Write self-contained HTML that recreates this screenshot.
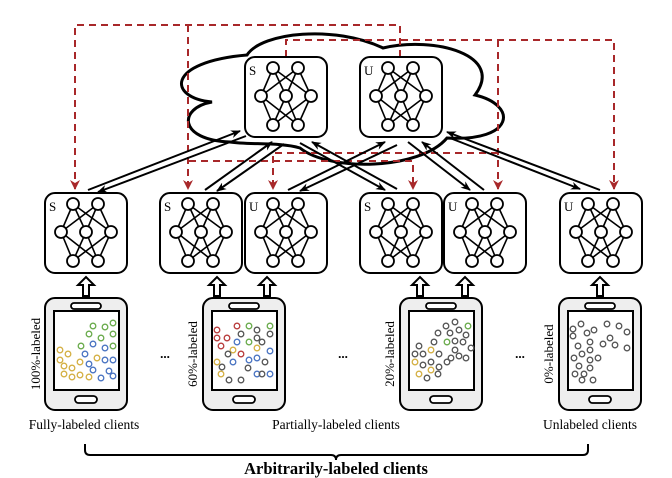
<!DOCTYPE html>
<html><head><meta charset="utf-8"><style>
html,body{margin:0;padding:0;background:#fff;}
svg{display:block;}
text{font-family:"Liberation Serif",serif;}
</style></head><body>
<svg width="672" height="478" viewBox="0 0 672 478" xmlns="http://www.w3.org/2000/svg">
<defs>
<marker id="ab" markerWidth="10" markerHeight="8" refX="9" refY="4" orient="auto" markerUnits="userSpaceOnUse"><path d="M0,0 L10,4 L0,8 L3,4 Z" fill="#000"/></marker>
<marker id="ar" markerWidth="10" markerHeight="10" refX="9" refY="5" orient="auto" markerUnits="userSpaceOnUse"><path d="M0,0 L10,5 L0,10 L3,5 Z" fill="#a8282a"/></marker>
<g id="net">
<rect x="0" y="0" width="82" height="80" rx="10" fill="#fff" stroke="#000" stroke-width="2"/>
<g stroke="#000" stroke-width="1.6">
<line x1="28" y1="11" x2="16" y2="39"/><line x1="28" y1="11" x2="41" y2="39"/><line x1="28" y1="11" x2="66" y2="39"/>
<line x1="53" y1="11" x2="16" y2="39"/><line x1="53" y1="11" x2="41" y2="39"/><line x1="53" y1="11" x2="66" y2="39"/>
<line x1="28" y1="68" x2="16" y2="39"/><line x1="28" y1="68" x2="41" y2="39"/><line x1="28" y1="68" x2="66" y2="39"/>
<line x1="53" y1="68" x2="16" y2="39"/><line x1="53" y1="68" x2="41" y2="39"/><line x1="53" y1="68" x2="66" y2="39"/>
</g>
<g fill="#fff" stroke="#000" stroke-width="1.8">
<circle cx="28" cy="11" r="6"/><circle cx="53" cy="11" r="6"/>
<circle cx="16" cy="39" r="6"/><circle cx="41" cy="39" r="6"/><circle cx="66" cy="39" r="6"/>
<circle cx="28" cy="68" r="6"/><circle cx="53" cy="68" r="6"/>
</g>
</g>
<g id="phone">
<rect x="0" y="0" width="82" height="112" rx="10" fill="#eeeeee" stroke="#000" stroke-width="2"/>
<rect x="9" y="13" width="65" height="79" fill="#fff" stroke="#000" stroke-width="2"/>
<rect x="26" y="5" width="30" height="6" rx="3" fill="#fff" stroke="#000" stroke-width="1.8"/>
<rect x="30" y="98" width="22" height="7" rx="3.5" fill="#fff" stroke="#000" stroke-width="1.8"/>
</g>
<path id="hup" d="M-3,19 L-3,8 L-8,8 L0,0 L8,8 L3,8 L3,19 Z" fill="#fff" stroke="#000" stroke-width="2"/>
</defs>

<!-- cloud -->
<path d="M247,55 C262,32 335,25 383,48 C435,36 505,55 475,95 C518,105 515,142 447,138 C420,170 330,172 300,148 C280,142 250,145 230,142 C178,140 178,108 212,102 C168,98 165,62 247,55 Z" fill="#fff" stroke="#000" stroke-width="3"/>

<!-- red dashed -->
<g fill="none" stroke="#a8282a" stroke-width="2" stroke-dasharray="7,5">
<path d="M400,57 L400,25 L75,25 L75,189" marker-end="url(#ar)"/>
<path d="M188,25 L188,189" marker-end="url(#ar)"/>
<path d="M286,57 L286,40 L614,40 L614,189" marker-end="url(#ar)"/>
<path d="M498,40 L498,189" marker-end="url(#ar)"/>
<path d="M189,161 L413,161 L413,189" marker-end="url(#ar)"/>
<path d="M498,153 L273,153 L273,189" marker-end="url(#ar)"/>
</g>

<!-- server boxes -->
<use href="#net" x="245" y="57"/>
<use href="#net" x="360" y="57"/>
<text x="249" y="75" font-size="13">S</text>
<text x="364" y="75" font-size="13">U</text>

<!-- black arrows -->
<g stroke="#000" stroke-width="2" fill="none">
<line x1="88" y1="190" x2="240" y2="131" marker-end="url(#ab)"/>
<line x1="246" y1="136" x2="98" y2="192" marker-end="url(#ab)"/>
<line x1="205" y1="190" x2="272" y2="142" marker-end="url(#ab)"/>
<line x1="284" y1="144" x2="217" y2="191" marker-end="url(#ab)"/>
<line x1="288" y1="190" x2="385" y2="142" marker-end="url(#ab)"/>
<line x1="397" y1="145" x2="300" y2="191" marker-end="url(#ab)"/>
<line x1="300" y1="143" x2="385" y2="190" marker-end="url(#ab)"/>
<line x1="397" y1="189" x2="312" y2="142" marker-end="url(#ab)"/>
<line x1="408" y1="142" x2="470" y2="190" marker-end="url(#ab)"/>
<line x1="484" y1="190" x2="422" y2="142" marker-end="url(#ab)"/>
<line x1="600" y1="190" x2="447" y2="132" marker-end="url(#ab)"/>
<line x1="450" y1="138" x2="580" y2="189" marker-end="url(#ab)"/>
</g>

<!-- client boxes -->
<use href="#net" x="45" y="193"/>
<use href="#net" x="160" y="193"/>
<use href="#net" x="245" y="193"/>
<use href="#net" x="360" y="193"/>
<use href="#net" x="444" y="193"/>
<use href="#net" x="560" y="193"/>
<g font-size="13">
<text x="49" y="211">S</text><text x="164" y="211">S</text><text x="249" y="211">U</text>
<text x="364" y="211">S</text><text x="448" y="211">U</text><text x="564" y="211">U</text>
</g>

<!-- hollow arrows -->
<use href="#hup" x="86" y="277"/>
<use href="#hup" x="217" y="277"/>
<use href="#hup" x="267" y="277"/>
<use href="#hup" x="420" y="277"/>
<use href="#hup" x="465" y="277"/>
<use href="#hup" x="600" y="277"/>

<!-- phones -->
<use href="#phone" x="45" y="298"/>
<use href="#phone" x="203" y="298"/>
<use href="#phone" x="400" y="298"/>
<use href="#phone" x="559" y="298"/>

<g fill="none" stroke-width="1.3">
<g stroke="#d4b044"><circle cx="60" cy="350" r="2.8"/><circle cx="68" cy="354" r="2.8"/><circle cx="60" cy="360" r="2.8"/><circle cx="64" cy="366" r="2.8"/><circle cx="72" cy="368" r="2.8"/><circle cx="64" cy="374" r="2.8"/><circle cx="72" cy="377" r="2.8"/><circle cx="80" cy="375" r="2.8"/><circle cx="89" cy="377" r="2.8"/><circle cx="80" cy="362" r="2.8"/><circle cx="97" cy="358" r="2.8"/></g>
<g stroke="#6aab4c"><circle cx="93" cy="326" r="2.8"/><circle cx="105" cy="327" r="2.8"/><circle cx="113" cy="323" r="2.8"/><circle cx="89" cy="334" r="2.8"/><circle cx="101" cy="338" r="2.8"/><circle cx="113" cy="334" r="2.8"/><circle cx="81" cy="346" r="2.8"/><circle cx="113" cy="346" r="2.8"/></g>
<g stroke="#4a74c2"><circle cx="93" cy="344" r="2.8"/><circle cx="85" cy="354" r="2.8"/><circle cx="105" cy="348" r="2.8"/><circle cx="89" cy="364" r="2.8"/><circle cx="105" cy="360" r="2.8"/><circle cx="113" cy="360" r="2.8"/><circle cx="93" cy="370" r="2.8"/><circle cx="109" cy="371" r="2.8"/><circle cx="101" cy="378" r="2.8"/><circle cx="113" cy="376" r="2.8"/></g>
<g stroke="#b83c3c"><circle cx="217" cy="330" r="2.8"/><circle cx="237" cy="326" r="2.8"/><circle cx="217" cy="338" r="2.8"/><circle cx="227" cy="338" r="2.8"/><circle cx="221" cy="346" r="2.8"/><circle cx="241" cy="354" r="2.8"/></g>
<g stroke="#6aab4c"><circle cx="249" cy="326" r="2.8"/><circle cx="270" cy="326" r="2.8"/><circle cx="249" cy="342" r="2.8"/></g>
<g stroke="#4a74c2"><circle cx="237" cy="342" r="2.8"/><circle cx="233" cy="362" r="2.8"/><circle cx="249" cy="360" r="2.8"/><circle cx="270" cy="351" r="2.8"/><circle cx="257" cy="358" r="2.8"/><circle cx="257" cy="374" r="2.8"/><circle cx="270" cy="374" r="2.8"/></g>
<g stroke="#d4b044"><circle cx="217" cy="362" r="2.8"/><circle cx="221" cy="374" r="2.8"/><circle cx="233" cy="350" r="2.8"/><circle cx="257" cy="348" r="2.8"/></g>
<g stroke="#555"><circle cx="241" cy="334" r="2.8"/><circle cx="257" cy="330" r="2.8"/><circle cx="270" cy="334" r="2.8"/><circle cx="257" cy="338" r="2.8"/><circle cx="262" cy="342" r="2.8"/><circle cx="228" cy="354" r="2.8"/><circle cx="265" cy="362" r="2.8"/><circle cx="222" cy="367" r="2.8"/><circle cx="248" cy="368" r="2.8"/><circle cx="229" cy="380" r="2.8"/><circle cx="241" cy="380" r="2.8"/><circle cx="262" cy="374" r="2.8"/></g>
<g stroke="#d4b044"><circle cx="431" cy="350" r="2.8"/><circle cx="415" cy="362" r="2.8"/><circle cx="431" cy="370" r="2.8"/><circle cx="419" cy="374" r="2.8"/></g>
<g stroke="#6aab4c"><circle cx="447" cy="342" r="2.8"/><circle cx="468" cy="326" r="2.8"/></g>
<g stroke="#555"><circle cx="446" cy="326" r="2.8"/><circle cx="455" cy="322" r="2.8"/><circle cx="438" cy="333" r="2.8"/><circle cx="450" cy="333" r="2.8"/><circle cx="459" cy="330" r="2.8"/><circle cx="466" cy="335" r="2.8"/><circle cx="434" cy="342" r="2.8"/><circle cx="455" cy="341" r="2.8"/><circle cx="463" cy="342" r="2.8"/><circle cx="419" cy="346" r="2.8"/><circle cx="455" cy="350" r="2.8"/><circle cx="471" cy="348" r="2.8"/><circle cx="415" cy="354" r="2.8"/><circle cx="423" cy="354" r="2.8"/><circle cx="439" cy="354" r="2.8"/><circle cx="451" cy="358" r="2.8"/><circle cx="459" cy="356" r="2.8"/><circle cx="466" cy="358" r="2.8"/><circle cx="423" cy="365" r="2.8"/><circle cx="431" cy="362" r="2.8"/><circle cx="447" cy="362" r="2.8"/><circle cx="439" cy="367" r="2.8"/><circle cx="438" cy="374" r="2.8"/><circle cx="427" cy="378" r="2.8"/></g>
<g stroke="#555"><circle cx="573" cy="329" r="2.8"/><circle cx="581" cy="324" r="2.8"/><circle cx="573" cy="336" r="2.8"/><circle cx="587" cy="333" r="2.8"/><circle cx="594" cy="330" r="2.8"/><circle cx="607" cy="324" r="2.8"/><circle cx="619" cy="326" r="2.8"/><circle cx="627" cy="332" r="2.8"/><circle cx="610" cy="338" r="2.8"/><circle cx="578" cy="346" r="2.8"/><circle cx="590" cy="342" r="2.8"/><circle cx="590" cy="350" r="2.8"/><circle cx="603" cy="344" r="2.8"/><circle cx="615" cy="345" r="2.8"/><circle cx="627" cy="348" r="2.8"/><circle cx="574" cy="358" r="2.8"/><circle cx="582" cy="354" r="2.8"/><circle cx="590" cy="360" r="2.8"/><circle cx="598" cy="358" r="2.8"/><circle cx="579" cy="366" r="2.8"/><circle cx="590" cy="368" r="2.8"/><circle cx="584" cy="374" r="2.8"/><circle cx="575" cy="374" r="2.8"/><circle cx="582" cy="380" r="2.8"/><circle cx="593" cy="380" r="2.8"/></g>
</g>

<g font-size="13" text-anchor="middle">
<text transform="translate(40,354) rotate(-90)">100%-labeled</text>
<text transform="translate(197,354) rotate(-90)">60%-labeled</text>
<text transform="translate(394,354) rotate(-90)">20%-labeled</text>
<text transform="translate(553,354) rotate(-90)">0%-labeled</text>
</g>
<g font-size="13" font-weight="bold" text-anchor="middle">
<text x="165" y="358">...</text>
<text x="343" y="358">...</text>
<text x="520" y="358">...</text>
</g>

<g font-size="13.5" text-anchor="middle">
<text x="84" y="429">Fully-labeled clients</text>
<text x="336" y="429">Partially-labeled clients</text>
<text x="590" y="429">Unlabeled clients</text>
</g>
<path d="M85,444 L85,450 Q85,455 90,455 L331,455 Q336,455 336,460 Q336,455 341,455 L583,455 Q588,455 588,450 L588,444" fill="none" stroke="#000" stroke-width="2"/>
<text x="336" y="474" font-size="16.5" font-weight="bold" text-anchor="middle">Arbitrarily-labeled clients</text>
</svg>
</body></html>
